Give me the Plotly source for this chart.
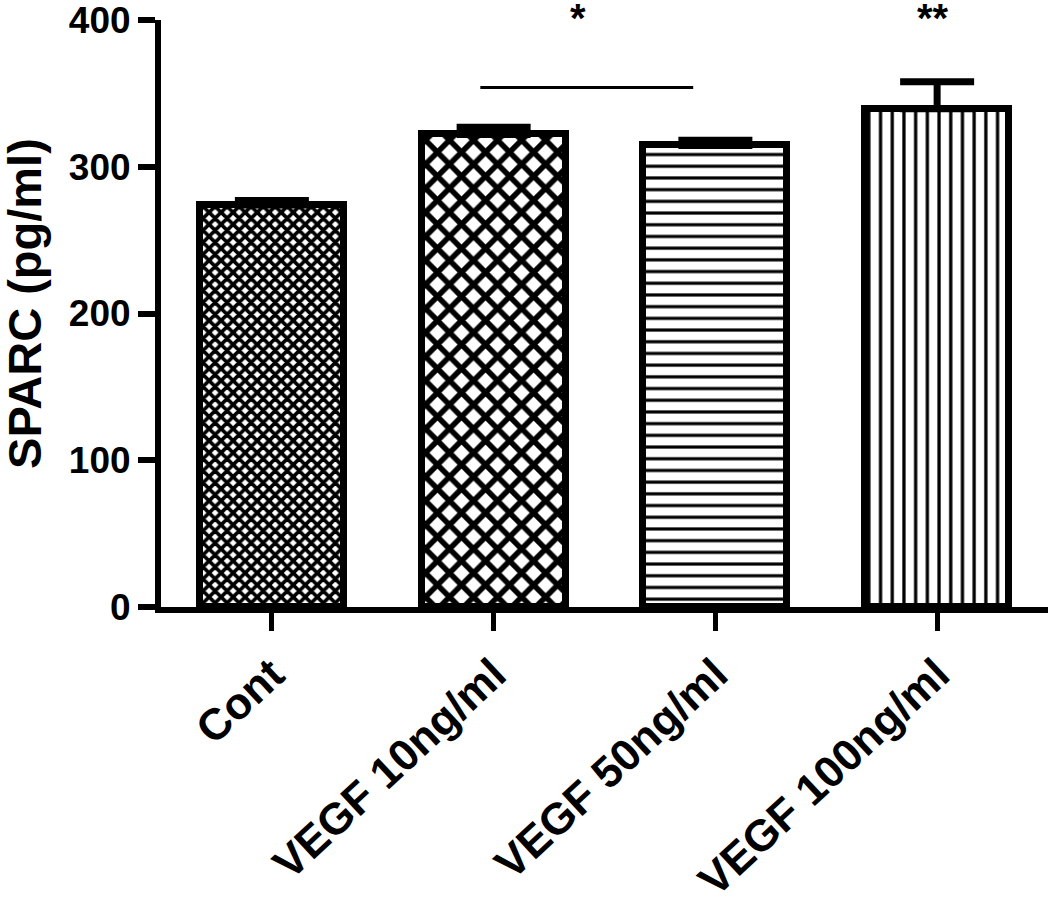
import plotly.graph_objects as go

# ---- data ----
categories = ["Cont", "VEGF 10ng/ml", "VEGF 50ng/ml", "VEGF 100ng/ml"]
means = [274, 322, 314.5, 339.5]
sem = [3, 5, 3.5, 18.5]
y_ticks = [0, 100, 200, 300, 400]
y_range = [0, 400]
y_title = "SPARC (pg/ml)"

# significance marks
bracket_x = [0.94, 1.90]
bracket_y = [354, 354]
sig_text = ["*", "**"]
sig_x = [1.38, 2.98]
sig_y = [401.5, 401.5]

# ---- styles ----
FONT = "Liberation Sans, Arial, sans-serif"
patterns = [
    dict(shape="x", size=8.5, solidity=0.68, fgcolor="black", bgcolor="white", fillmode="replace"),
    dict(shape="x", size=17, solidity=0.55, fgcolor="black", bgcolor="white", fillmode="replace"),
    dict(shape="-", size=11.7, solidity=0.27, fgcolor="black", bgcolor="white", fillmode="replace"),
    dict(shape="|", size=11.7, solidity=0.28, fgcolor="black", bgcolor="white", fillmode="replace"),
]

fig = go.Figure()
for i, cat in enumerate(categories):
    fig.add_trace(go.Bar(
        x=[i], y=[means[i]], width=0.65,
        marker=dict(color="white", line=dict(color="black", width=7), pattern=patterns[i]),
        error_y=dict(type="data", symmetric=False, array=[sem[i]], arrayminus=[0],
                     color="black", thickness=7, width=37),
        showlegend=False,
    ))

fig.add_trace(go.Scatter(x=bracket_x, y=bracket_y, mode="lines",
                         line=dict(color="black", width=3), showlegend=False,
                         cliponaxis=False, hoverinfo="skip"))

span = y_range[1] - y_range[0]
for t, xx, yy in zip(sig_text, sig_x, sig_y):
    fig.add_annotation(x=xx, y=(yy - y_range[0]) / span, xref="x", yref="paper", text=t,
                       showarrow=False,
                       font=dict(family=FONT, size=40, color="black", weight="bold"),
                       xanchor="center", yanchor="middle")

fig.add_annotation(x=-0.154, y=0.517, xref="paper", yref="paper", text=y_title,
                   textangle=-90, showarrow=False, xanchor="center", yanchor="middle",
                   font=dict(family=FONT, size=47, color="black", weight="bold"))

fig.update_layout(
    width=1050, height=897,
    margin=dict(l=161, r=2, t=20, b=290, autoexpand=False),
    paper_bgcolor="white", plot_bgcolor="white",
    bargap=0,
    font=dict(family=FONT, color="black"),
)
fig.update_xaxes(
    range=[-0.5, 3.5], tickmode="array", tickvals=list(range(len(categories))),
    ticktext=categories, tickangle=-43, automargin=False, ticklabeloverflow="allow",
    tickfont=dict(family=FONT, size=44, color="black", weight="bold"),
    showline=True, linecolor="black", linewidth=6,
    ticks="outside", ticklen=18, tickwidth=5, tickcolor="black",
    showgrid=False, zeroline=False,
)
fig.update_yaxes(
    range=y_range, tickmode="array", tickvals=y_ticks, automargin=False,
    ticklabeloverflow="allow",
    tickfont=dict(family=FONT, size=37, color="black", weight="bold"),
    showline=True, linecolor="black", linewidth=6,
    ticks="outside", ticklen=17, tickwidth=6, tickcolor="black",
    showgrid=False, zeroline=False,
)

fig.write_html("out.html", config={"displayModeBar": False},
               post_script="document.body.style.margin='0px';")
